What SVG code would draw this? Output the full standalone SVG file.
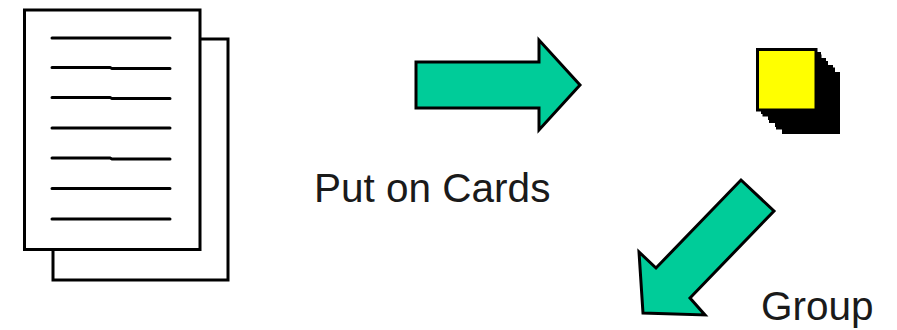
<svg xmlns="http://www.w3.org/2000/svg" width="897" height="330" viewBox="0 0 897 330">
<style>
.page{fill:#fff;stroke:#000;stroke-width:3}
.rule{fill:none;stroke:#000;stroke-width:3;stroke-linecap:round}
.arrow{fill:#00cc99;stroke:#000;stroke-width:3;stroke-linejoin:miter}
.card{fill:#ff0;stroke:#000;stroke-width:3}
.shadow{fill:#000}
.label{font-family:"Liberation Sans",Arial,sans-serif;font-size:40.5px;fill:#1a1a1a}
</style>
<rect width="897" height="330" fill="#fff"/>
<g id="pages">
<rect class="page" x="53" y="39" width="175" height="241"/>
<rect class="page" x="24.500" y="10" width="175.500" height="239.500"/>
<path class="rule" d="M52 38H170M52 67.500H110L112 68.500H170M52 97.500H110L112 98.500H170M52 128H170M52 158H110L112 159H170M52 188.500H170M52 219H170"/>
</g>
<g id="cards">
<rect class="shadow" x="782" y="72" width="58" height="62"/>
<rect class="card" x="777.500" y="69" width="56" height="59"/>
<rect class="shadow" x="775" y="65" width="58" height="62"/>
<rect class="card" x="770.500" y="62.500" width="56" height="59"/>
<rect class="shadow" x="768" y="58" width="58" height="62"/>
<rect class="card" x="764" y="56" width="56" height="59"/>
<rect class="shadow" x="761" y="52" width="60" height="62"/>
<rect class="card" x="757.500" y="49.500" width="58.500" height="60.500"/>
</g>
<g id="connectors">
<path class="arrow" d="M416 62H539V40L580 85L539 130V108H416Z"/>
<path class="arrow" d="M741 180L774 211L690 298L705 315L643 313L639 252L656 268Z"/>
</g>
<g id="label-put-on-cards"><text class="label" x="314" y="202">Put on Cards</text></g>
<g id="label-group"><text class="label" x="761" y="320">Group</text></g>
</svg>
